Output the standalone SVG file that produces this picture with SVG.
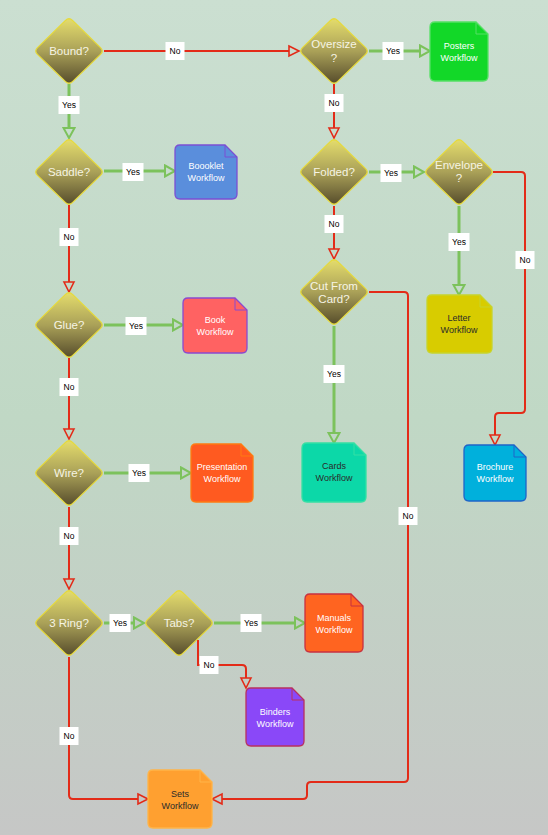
<svg xmlns="http://www.w3.org/2000/svg" xmlns:xlink="http://www.w3.org/1999/xlink" width="548" height="835" viewBox="0 0 548 835">
<defs>
<linearGradient id="bg" x1="0" y1="0" x2="0" y2="1">
<stop offset="0" stop-color="#cbdfd1"/>
<stop offset="0.5" stop-color="#c0d8c5"/>
<stop offset="1" stop-color="#c6c7c6"/>
</linearGradient>
<linearGradient id="dg" x1="0" y1="0" x2="0" y2="1">
<stop offset="0" stop-color="#e4dc6c"/>
<stop offset="0.5" stop-color="#aaa158"/>
<stop offset="1" stop-color="#574d2c"/>
</linearGradient>
<path id="dia" d="M3.5,-30.6 L31.5,-3.4 Q35,0 31.5,3.4 L3.5,30.6 Q0,34 -3.5,30.6 L-31.5,3.4 Q-35,0 -31.5,-3.4 L-3.5,-30.6 Q0,-34 3.5,-30.6 Z"/>
<marker id="ar" markerUnits="userSpaceOnUse" markerWidth="14" markerHeight="14" viewBox="0 0 14 14" refX="2" refY="7" orient="auto">
<path d="M2,2 L12,7 L2,12 Z" fill="none" stroke="#e32b18" stroke-width="1.6" stroke-linejoin="miter"/>
</marker>
<marker id="ag" markerUnits="userSpaceOnUse" markerWidth="14" markerHeight="14" viewBox="0 0 14 14" refX="2" refY="7" orient="auto">
<path d="M2,1.5 L12,7 L2,12.5 Z" fill="none" stroke="#7cc25c" stroke-width="2"/>
</marker>
<style>
.dia{fill:url(#dg);stroke:#e6da3a;stroke-width:1.3}
.dt{font-family:"Liberation Sans",Arial,sans-serif;font-size:11.5px;fill:#f6f4e4;text-anchor:middle}
.doc{stroke-width:1.3}
.fold{fill:none;stroke-width:1}
.wt{font-family:"Liberation Sans",Arial,sans-serif;font-size:9px;fill:#ffffff;text-anchor:middle}
.kt{font-family:"Liberation Sans",Arial,sans-serif;font-size:9px;fill:#2a2a2a;text-anchor:middle}
.r{fill:none;stroke:#e32b18;stroke-width:2;marker-end:url(#ar)}
.g{fill:none;stroke:#7cc25c;stroke-width:3;marker-end:url(#ag)}
.lb{fill:#ffffff}
.lt{font-family:"Liberation Sans",Arial,sans-serif;font-size:8.5px;fill:#000000;text-anchor:middle}
</style>
</defs>
<rect x="0" y="0" width="548" height="835" fill="url(#bg)"/>

<g id="connectors">
<path class="r" d="M104,51 L289,51"/>
<path class="g" d="M69,84 L69,128"/>
<path class="g" d="M104,171 L165,171"/>
<path class="r" d="M69,205 L69,282"/>
<path class="g" d="M104,325 L173,325"/>
<path class="r" d="M69,358 L69,429"/>
<path class="g" d="M104,473 L181,473"/>
<path class="r" d="M69,507 L69,579"/>
<path class="g" d="M104,623 L134,623"/>
<path class="g" d="M214,623 L295,623"/>
<path class="r" d="M198,640 L198,665 L242,665 Q246,665 246,669 L246,678"/>
<path class="r" d="M69,657 L69,795 Q69,799 73,799 L138,799"/>
<path class="r" d="M369,292 L404,292 Q408,292 408,296 L408,778 Q408,782 404,782 L311,782 Q307,782 307,786 L307,795 Q307,799 303,799 L222,799"/>
<path class="g" d="M369,51 L420,51"/>
<path class="r" d="M334,84 L334,128"/>
<path class="g" d="M369,172 L414,172"/>
<path class="r" d="M334,206 L334,249"/>
<path class="g" d="M459,206 L459,285"/>
<path class="r" d="M493,172 L521,172 Q525,172 525,176 L525,409 Q525,413 521,413 L499,413 Q495,413 495,417 L495,435"/>
<path class="g" d="M334,326 L334,433"/>

<g id="labels">
<rect class="lb" x="165.5" y="42" width="19" height="18"/><text class="lt" x="175" y="54">No</text>
<rect class="lb" x="58.5" y="96" width="21" height="18"/><text class="lt" x="69" y="108">Yes</text>
<rect class="lb" x="122.5" y="163" width="21" height="18"/><text class="lt" x="133" y="175">Yes</text>
<rect class="lb" x="59.5" y="228" width="19" height="18"/><text class="lt" x="69" y="240">No</text>
<rect class="lb" x="125.5" y="317" width="21" height="18"/><text class="lt" x="136" y="329">Yes</text>
<rect class="lb" x="59.5" y="378" width="19" height="18"/><text class="lt" x="69" y="390">No</text>
<rect class="lb" x="128.5" y="464" width="21" height="18"/><text class="lt" x="139" y="476">Yes</text>
<rect class="lb" x="59.5" y="527" width="19" height="18"/><text class="lt" x="69" y="539">No</text>
<rect class="lb" x="109.5" y="614" width="21" height="18"/><text class="lt" x="120" y="626">Yes</text>
<rect class="lb" x="240.5" y="614" width="21" height="18"/><text class="lt" x="251" y="626">Yes</text>
<rect class="lb" x="199.5" y="656" width="19" height="18"/><text class="lt" x="209" y="668">No</text>
<rect class="lb" x="59.5" y="727" width="19" height="18"/><text class="lt" x="69" y="739">No</text>
<rect class="lb" x="398.5" y="507" width="19" height="18"/><text class="lt" x="408" y="519">No</text>
<rect class="lb" x="382.5" y="42" width="21" height="18"/><text class="lt" x="393" y="54">Yes</text>
<rect class="lb" x="324.5" y="94" width="19" height="18"/><text class="lt" x="334" y="106">No</text>
<rect class="lb" x="380.5" y="164" width="21" height="18"/><text class="lt" x="391" y="176">Yes</text>
<rect class="lb" x="324.5" y="215" width="19" height="18"/><text class="lt" x="334" y="227">No</text>
<rect class="lb" x="448.5" y="233" width="21" height="18"/><text class="lt" x="459" y="245">Yes</text>
<rect class="lb" x="515.5" y="251" width="19" height="18"/><text class="lt" x="525" y="263">No</text>
<rect class="lb" x="323.5" y="365" width="21" height="18"/><text class="lt" x="334" y="377">Yes</text>
</g>
</g>

<g id="bound"><use href="#dia" class="dia" x="69" y="51"/><text class="dt" x="69" y="55">Bound?</text></g>
<g id="saddle"><use href="#dia" class="dia" x="69" y="172"/><text class="dt" x="69" y="176">Saddle?</text></g>
<g id="glue"><use href="#dia" class="dia" x="69" y="325"/><text class="dt" x="69" y="329">Glue?</text></g>
<g id="wire"><use href="#dia" class="dia" x="69" y="473"/><text class="dt" x="69" y="477">Wire?</text></g>
<g id="ring"><use href="#dia" class="dia" x="69" y="623"/><text class="dt" x="69" y="627">3 Ring?</text></g>
<g id="tabs"><use href="#dia" class="dia" x="179" y="623"/><text class="dt" x="179" y="627">Tabs?</text></g>
<g id="oversize"><use href="#dia" class="dia" x="334" y="51"/><text class="dt" x="334" y="48">Oversize</text><text class="dt" x="334" y="62">?</text></g>
<g id="folded"><use href="#dia" class="dia" x="334" y="172"/><text class="dt" x="334" y="176">Folded?</text></g>
<g id="envelope"><use href="#dia" class="dia" x="459" y="172"/><text class="dt" x="459" y="169">Envelope</text><text class="dt" x="459" y="182">?</text></g>
<g id="cutfromcard"><use href="#dia" class="dia" x="334" y="292"/><text class="dt" x="334" y="290">Cut From</text><text class="dt" x="334" y="303">Card?</text></g>

<g id="booklet">
<path class="doc" fill="#5a8edc" stroke="#7b4fd4" d="M180,145 L225,145 L237,157 L237,194 Q237,199 232,199 L180,199 Q175,199 175,194 L175,150 Q175,145 180,145 Z"/>
<path class="fold" stroke="#7b4fd4" d="M225,145 L225,157 L237,157"/>
<text class="wt" x="206" y="169">Boooklet</text><text class="wt" x="206" y="181">Workflow</text>
</g>
<g id="posters">
<path class="doc" fill="#12d828" stroke="#55e065" d="M435,22 L476,22 L488,34 L488,76 Q488,81 483,81 L435,81 Q430,81 430,76 L430,27 Q430,22 435,22 Z"/>
<path class="fold" stroke="#55e065" d="M476,22 L476,34 L488,34"/>
<text class="wt" x="459" y="49">Posters</text><text class="wt" x="459" y="61">Workflow</text>
</g>
<g id="book">
<path class="doc" fill="#ff6262" stroke="#8a4ad0" d="M188,298 L235,298 L247,310 L247,348 Q247,353 242,353 L188,353 Q183,353 183,348 L183,303 Q183,298 188,298 Z"/>
<path class="fold" stroke="#8a4ad0" d="M235,298 L235,310 L247,310"/>
<text class="wt" x="215" y="323">Book</text><text class="wt" x="215" y="335">Workflow</text>
</g>
<g id="presentation">
<path class="doc" fill="#ff5a20" stroke="#ff7a10" d="M196,444 L241,444 L253,456 L253,497 Q253,502 248,502 L196,502 Q191,502 191,497 L191,449 Q191,444 196,444 Z"/>
<path class="fold" stroke="#ff7a10" d="M241,444 L241,456 L253,456"/>
<text class="wt" x="222" y="470">Presentation</text><text class="wt" x="222" y="482">Workflow</text>
</g>
<g id="letter">
<path class="doc" fill="#d8cc00" stroke="#c8d42a" d="M432,295 L480,295 L492,307 L492,348 Q492,353 487,353 L432,353 Q427,353 427,348 L427,300 Q427,295 432,295 Z"/>
<path class="fold" stroke="#c8d42a" d="M480,295 L480,307 L492,307"/>
<text class="kt" x="459" y="321">Letter</text><text class="kt" x="459" y="333">Workflow</text>
</g>
<g id="cards">
<path class="doc" fill="#0cd8a8" stroke="#34e0a4" d="M307,443 L354,443 L366,455 L366,497 Q366,502 361,502 L307,502 Q302,502 302,497 L302,448 Q302,443 307,443 Z"/>
<path class="fold" stroke="#34e0a4" d="M354,443 L354,455 L366,455"/>
<text class="kt" x="334" y="469">Cards</text><text class="kt" x="334" y="481">Workflow</text>
</g>
<g id="brochure">
<path class="doc" fill="#00b0dc" stroke="#1e64c8" d="M469,445 L514,445 L526,457 L526,496 Q526,501 521,501 L469,501 Q464,501 464,496 L464,450 Q464,445 469,445 Z"/>
<path class="fold" stroke="#1e64c8" d="M514,445 L514,457 L526,457"/>
<text class="wt" x="495" y="470">Brochure</text><text class="wt" x="495" y="482">Workflow</text>
</g>
<g id="manuals">
<path class="doc" fill="#ff6420" stroke="#c83040" d="M310,594 L351,594 L363,606 L363,647 Q363,652 358,652 L310,652 Q305,652 305,647 L305,599 Q305,594 310,594 Z"/>
<path class="fold" stroke="#c83040" d="M351,594 L351,606 L363,606"/>
<text class="wt" x="334" y="621">Manuals</text><text class="wt" x="334" y="633">Workflow</text>
</g>
<g id="binders">
<path class="doc" fill="#8a48f8" stroke="#b83060" d="M251,688 L292,688 L304,700 L304,741 Q304,746 299,746 L251,746 Q246,746 246,741 L246,693 Q246,688 251,688 Z"/>
<path class="fold" stroke="#b83060" d="M292,688 L292,700 L304,700"/>
<text class="wt" x="275" y="715">Binders</text><text class="wt" x="275" y="727">Workflow</text>
</g>
<g id="sets">
<path class="doc" fill="#ffa030" stroke="#ffb448" d="M153,770 L200,770 L212,782 L212,823 Q212,828 207,828 L153,828 Q148,828 148,823 L148,775 Q148,770 153,770 Z"/>
<path class="fold" stroke="#ffb448" d="M200,770 L200,782 L212,782"/>
<text class="kt" x="180" y="797">Sets</text><text class="kt" x="180" y="809">Workflow</text>
</g>
</svg>
